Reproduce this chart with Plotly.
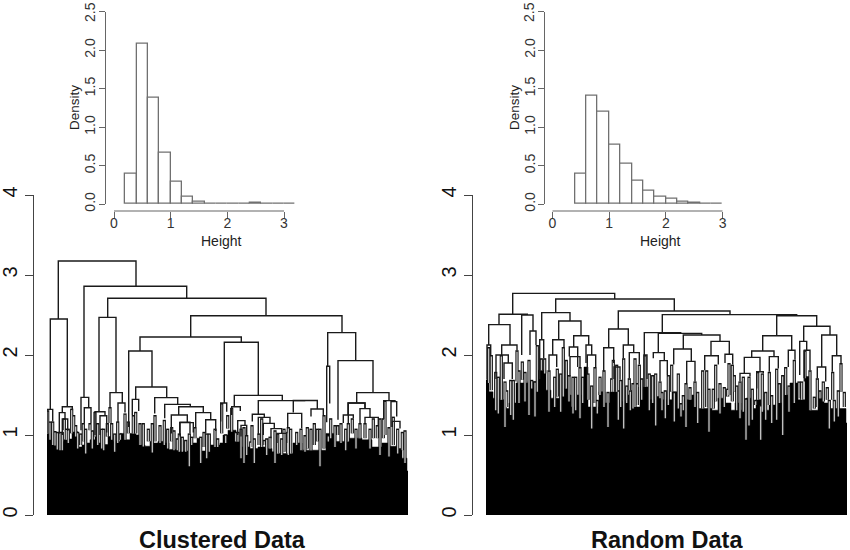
import plotly.graph_objects as go

W, H = 850, 550

# ---------- histogram data ----------
hist_left_x = [0.3,0.5,0.7,0.9,1.1,1.3,1.5,1.7,1.9,2.1,2.3,2.5,2.7,2.9,3.1]
hist_left_y = [0.40,2.09,1.385,0.67,0.29,0.10,0.03,0.004,0.004,0.004,0.004,0.012,0.004,0.004,0.004]
hist_right_x = [0.5,0.7,0.9,1.1,1.3,1.5,1.7,1.9,2.1,2.3,2.5,2.7,2.9]
hist_right_y = [0.40,1.41,1.20,0.77,0.525,0.305,0.17,0.10,0.075,0.025,0.012,0.004,0.004]

# ---------- dendrogram data: (left leaf, right leaf, height, left child height, right child height) ----------
left_links = [
 (58.3,136,3.175,2.45,2.86),(50.3,67.3,2.45,1.32,1.355),(84,186.7,2.86,1.47,2.71),(107.7,266,2.71,2.47,2.49),
 (99,116,2.47,1.29,1.53),(190.7,342,2.49,2.225,2.28),(140,241.3,2.225,2.05,2.16),(128.7,152,2.05,1.10,1.60),
 (224.3,258.3,2.16,1.40,1.495),(327.7,355.7,2.28,1.86,1.93),(326.7,329.7,1.86,1.16,1.395),(338,373,1.93,1.19,1.53),
 (135.7,166.7,1.60,1.445,1.467),(132.3,138.7,1.445,1.25,1.30),(154.7,177.7,1.467,1.27,1.383),(164.7,190.3,1.383,1.21,1.354),
 (178.7,203.3,1.354,1.25,1.28),(171.3,187.3,1.25,1.02,1.155),(179.7,193.3,1.155,1.0,1.03),(195.7,210.7,1.28,1.10,1.19),
 (205.7,215.7,1.19,1.02,1.05),(47,52.7,1.32,1.02,1.17),(62.3,72.3,1.354,1.28,1.31),(59.3,65,1.28,1.02,1.2),(62.3,67.7,1.2,1.0,1.05),
 (81,88.7,1.47,1.06,1.34),(84.3,91,1.34,1.15,1.15),(95,105,1.29,1.0,1.24),(100,106.7,1.24,1.0,1.03),(110,122.3,1.53,1.35,1.40),
 (118,125,1.40,1.16,1.28),(220.7,226.7,1.40,1.17,1.29),(231.7,240.3,1.354,1.25,1.30),(234.3,282.3,1.495,1.354,1.43),
 (258.3,305.3,1.43,1.25,1.43),(293.3,317.3,1.432,1.28,1.325),(252.3,264.3,1.26,1.17,1.22),(287.7,301.7,1.27,1.10,1.08),
 (311,323.3,1.325,1.23,1.25),(356.7,389,1.53,1.40,1.43),(348,365,1.40,1.25,1.33),(383.7,395,1.43,1.2,1.417),(391,396.7,1.417,1.1,1.23),
 (258.3,270,1.22,1.0,1.15),(263.3,274.3,1.145,1.0,1.08),(271,281.7,1.08,0.96,1.02),(277,286.7,1.02,0.9,0.9),(180,190,1.16,0.98,1.02),
 (237.7,245,1.18,1.0,1.12),(241,246.7,1.12,0.98,1.0),(343.3,353.3,1.25,1.15,1.21),(360,370,1.33,1.15,1.22),(365,378.3,1.22,1.15,1.125),
 (392.3,400,1.17,1.1,1.08),(348.3,365,1.40,1.15,1.33),
]
right_links = [
 (512.7,614.7,2.77,2.51,2.70),(499,527.3,2.51,2.38,2.50),(488.7,510,2.38,2.125,2.125),(521.7,533,2.50,2.0,2.30),(487,490.7,2.125,1.7,2.0),
 (501.7,517,2.125,2.0,2.06),(496,508.3,2.0,1.7,1.90),(504,512.3,1.90,1.7,1.7),(530,536,2.30,2.0,2.125),(555.7,674.3,2.70,2.53,2.55),
 (541.7,570,2.53,2.19,2.425),(539.7,543.7,2.19,1.7,1.96),(558.7,581,2.425,2.19,2.24),(552.7,564,2.19,2.0,2.10),(573.7,588.7,2.24,2.10,2.125),
 (569.3,577.7,2.10,1.98,1.85),(586,591.7,2.125,1.9,2.0),(549,556.7,2.0,1.81,1.85),(570,580,1.98,1.73,1.85),(587.3,595.7,2.0,1.77,1.85),
 (618.3,730,2.55,2.325,2.505),(608.7,628.3,2.325,2.09,2.125),(603.7,613.7,2.09,1.8,1.9),(623.3,633.7,2.125,1.96,2.03),(629.3,639.3,2.03,1.71,1.88),
 (662.3,796.7,2.505,2.28,2.49),(776.7,816.7,2.49,2.24,2.36),(644.3,680.7,2.28,2.0,2.27),(658.3,701.7,2.27,2.03,2.25),(683.3,720,2.25,2.075,2.17),
 (653.3,664.3,2.03,1.96,1.93),(660,667.3,1.93,1.67,1.75),(673.7,691.3,2.075,1.88,1.92),(686.7,695,1.92,1.65,1.67),(711,729.3,2.17,1.99,2.01),
 (704.7,718.3,1.99,1.81,1.88),(725,732.7,2.01,1.90,1.88),(762.7,791.7,2.24,2.05,2.06),(803.7,830,2.36,2.17,2.25),(751.7,774,2.05,1.97,1.98),
 (788.3,795,2.06,1.85,1.94),(744.3,760,1.97,1.77,1.79),(769.3,778.3,1.98,1.79,1.83),(799.7,806.7,2.17,1.75,2.06),(804.3,810,2.06,1.67,1.81),
 (821.7,836.7,2.25,1.85,1.99),(817.3,825.7,1.85,1.71,1.67),(832.3,841,1.99,1.79,1.90),(740,750,1.77,1.67,1.73),(756.7,763.3,1.79,1.58,1.77),
 (644,647,2.0,1.6,1.7),(614,620,1.85,1.7,1.69),
]

# ---------- narrow leaf clusters: (leaf, top height, bottom height) ----------
left_spikes = [
 (47.7,1.31,1.02),(50,1.17,.94),(52.7,1.17,.875),(55,1.05,.87),(57.3,1.04,.82),(60,1.04,.81),(62.3,1.04,.81),(64.3,1.21,1.06),(66.3,1.08,.94),
 (68.3,1.08,.9),(71.7,1.33,1.02),(73.7,1.25,1.04),(75.7,1.125,.98),(77.7,1.04,.83),(80.7,1.02,.875),(83.3,1.15,.92),(85.7,1.08,.77),(90,1.15,1.06),
 (92.3,1.06,.83),(95,1.29,.98),(97.7,1.15,.875),(101.7,1.08,.83),(103.7,1.08,.81),(107.3,1.15,.98),(110,1.35,1.15),(111.7,1.15,.94),(114.7,1.02,.79),
 (117.7,1.17,.9),(120.3,1.02,.94),(125,1.27,.94),(128.3,1.17,1.02),(133.3,1.25,1.02),(135.7,1.29,1.02),(140,1.15,.875),(143.3,1.15,.855),
 (148.3,1.08,.92),(152.3,1.15,.78),(155,1.25,.92),(160,1.125,.9),(164.3,1.19,.875),(167.7,1.08,.83),
 (171.7,1.1,.92),(174,1.06,.81),(177.3,.96,.81),(179.3,1.02,.79),(182.3,.98,.79),(185.7,.94,.79),(189.3,1.02,.61),(191.7,.98,.875),(195,1.1,.96),
 (200.7,.98,.65),(204,1.04,.85),(206.7,1.02,.71),(209.3,1.02,.79),(215,1.08,.85),(217.7,.96,.85),(221.7,1.4,1.02),(225.7,1.01,.9),(227.7,1.25,1.08),
 (231.7,1.34,1.04),(235.7,1.04,.92),(238,1.04,.92),(241,1.08,.71),(244,1.1,.65),(246.7,1.0,.75),(250.7,.92,.85),(252,1.125,.85),(254.3,.96,.65),
 (259,1.02,.875),(261.7,1.21,.85),(264.3,.94,.875),(266.7,.96,.75),(270,.98,.83),(275,1.06,.65),(277.7,1.02,.77),(281.7,.96,.75),(284,1.08,.79),
 (287.7,1.04,.77),(288.3,1.1,.75),(290.7,1.08,.77),(296.7,1.04,.875),(301,1.08,.81),(305,1.0,.79),(307.3,1.1,.83),(311,1.08,.81),(314.3,1.15,.875),
 (317.3,1.08,.92),(320,1.08,.61),(324,1.25,.83),(328.3,1.0,.92),(330.7,1.21,.96),(335,1.125,.85),(337.7,1.125,1.0),(341,1.15,.9),(345.7,1.08,.81),
 (348.3,1.15,.92),(352.3,1.21,1.02),(356,1.08,.83),(360,1.15,.96),(365,1.15,.96),(370,1.08,.83),(373.3,1.21,.96),(377.3,1.125,.96),(380,1.21,.75),
 (383.3,1.21,.96),(385,1.43,1.0),(389,1.1,.73),(393.3,1.23,.875),(397.7,1.08,.77),(402.3,1.04,.81),(405,1.06,.65),
]
right_spikes = [
 (488.7,2.1,1.65),(491.3,2.0,1.56),(495.7,1.79,1.31),(498.3,1.73,1.27),(501.3,2.0,1.44),(505,1.67,1.1),(506.7,1.56,1.35),(510.7,1.69,1.25),(513.3,1.69,1.19),
 (517,2.06,1.67),(519,1.81,1.4),(522.3,1.92,1.69),(525,1.79,1.42),(529,1.94,1.25),(531.7,1.69,1.58),(535,1.67,1.23),(537.3,2.125,1.54),(541.3,1.96,1.81),
 (544.7,1.96,1.77),(549,1.81,1.29),(554.7,1.73,1.35),(557.3,1.83,1.48),(560.7,1.77,1.29),(563.3,2.1,1.48),(566.3,1.94,1.58),(569,1.75,1.42),(573,1.73,1.27),
 (575.7,1.73,1.31),(580,1.85,1.21),(582.7,1.73,1.4),(588,1.77,1.44),(591.7,1.62,1.08),(595,1.85,1.4),(597.3,1.44,1.27),(600,1.73,1.5),(604,1.81,1.35),
 (608,1.54,1.1),(611.7,1.71,1.54),(613.3,1.94,1.54),(616.7,1.88,1.54),(618.3,1.56,1.19),(620.7,1.69,1.35),(623.7,1.96,1.08),(626.7,1.62,1.4),(629.3,1.71,1.56),
 (630.3,1.56,1.31),(633,1.65,1.33),(635,1.96,1.35),(637.3,1.65,1.375),(639.3,1.88,1.6),(641.7,1.71,1.44),(645,2.0,1.6),(649.3,1.77,1.31),(652.7,1.75,1.4),
 (655.7,1.77,1.12),(660,1.67,1.46),(662,1.54,1.31),(665.3,1.56,1.21),(668.3,1.75,1.375),(671.7,1.88,1.54),(674.3,1.54,1.17),(678.3,1.77,1.33),(681,1.4,1.23),
 (683.3,1.5,1.31),(686,1.65,1.1),(690,1.6,1.44),(695,1.67,1.35),(697.7,1.54,1.15),(702.7,1.81,1.33),(706.7,1.81,1.35),(709,1.58,1.04),(713.3,1.58,1.33),
 (715.7,1.88,1.42),(720,1.65,1.27),(724.3,1.6,1.35),(727.7,1.58,1.48),(729,1.9,1.5),(732.3,1.88,1.42),(734.3,1.75,1.54),(736.7,1.62,1.31),(740,1.67,1.21),
 (743.3,1.73,1.29),(746,1.46,.94),(749,1.73,1.12),(752.3,1.58,1.19),(755.7,1.44,1.375),(757.7,1.79,1.44),(760.7,1.375,.94),(762.3,1.77,1.29),(765.7,1.54,1.19),
 (769.3,1.79,1.375),(771.7,1.5,1.15),(776.7,1.83,1.19),(779.3,1.65,1.4),(782.7,1.75,1.0),(785.7,1.85,1.5),(789,1.62,1.29),(794.3,1.94,1.4),(799,1.67,1.46),
 (801.7,1.67,1.44),(805,2.06,1.71),(810,1.81,1.31),(814.3,1.48,1.33),(817.3,1.71,1.35),(820,1.56,1.46),(823.3,1.67,1.42),(827.3,1.6,1.44),(829.3,1.44,1.08),
 (832.7,1.79,1.44),(834.3,1.44,1.17),(838.3,1.56,1.23),(841,1.9,1.54),(844.3,1.54,1.35),
]

# ---------- solid lower envelope of the leaves ----------
left_env_x = [47,52,55,57,59,64,69,72,76,78,82,86,90,95,98,103,108,113,120,125,130,136,140,145,150,153,158,163,169,178,186,190,197,200,207,210,220,223,228,236,241,250,258,265,272,276,285,293,302,325,326,335,348,362,372,382,388,398,402,407,408]
left_env_h = [1.02,.94,.875,.83,.92,.94,.95,1.06,1.04,.85,.875,.9,.94,.98,.9,.88,.98,.92,1.02,.94,1.02,1.0,.875,.86,.92,.9,.92,.9,.82,.8,.8,.9,.96,.8,.8,.875,.9,1.0,1.06,.92,.85,.83,.85,.83,.79,.77,.77,.9,.81,.81,1.02,.92,.96,.94,.85,.9,.86,.83,.71,.55,.55]
right_env_x = [486,489,493,499,504,509,516,521,528,537,546,551,562,568,571,577,584,588,594,599,605,610,619,626,632,640,648,655,662,672,678,684,692,698,712,718,725,731,735,741,746,751,756,761,769,777,784,790,798,805,810,818,824,830,840,846,847]
right_env_h = [1.69,1.54,1.46,1.44,1.33,1.4,1.65,1.65,1.67,1.81,1.56,1.46,1.58,1.5,1.35,1.5,1.85,1.35,1.35,1.54,1.4,1.54,1.42,1.5,1.35,1.6,1.44,1.48,1.44,1.54,1.35,1.44,1.5,1.33,1.31,1.46,1.4,1.31,1.4,1.31,1.46,1.33,1.44,1.31,1.375,1.4,1.5,1.65,1.44,1.73,1.31,1.46,1.4,1.33,1.33,1.15,1.15]

y_ticks_big = [0,1,2,3,4]
y_ticks_small = [0,0.5,1,1.5,2,2.5]
y_ticktext_small = ["0.0","0.5","1.0","1.5","2.0",""]
x_ticks_small = [0,1,2,3]
titles = ["Clustered Data", "Random Data"]

FONT = "Liberation Sans, Arial, sans-serif"
AX = "#444444"
fig = go.Figure()


def link_path(links):
    xs, ys = [], []
    for xl, xr, h, hl, hr in links:
        xs += [xl, xl, xr, xr, None]
        ys += [hl, h, h, hr, None]
    return xs, ys


def spike_path(spikes, inset):
    xs, ys = [], []
    for x, top, bot in spikes:
        xs += [x, x, None]
        ys += [bot, top - inset, None]
    return xs, ys


def add_tree(links, spikes, env_x, env_h, xa, ya):
    ref = dict(xaxis=xa, yaxis=ya, hoverinfo="skip", showlegend=False, mode="lines")
    fig.add_trace(go.Scatter(x=env_x, y=env_h, fill="tozeroy", fillcolor="#000000",
                             line=dict(color="#000000", width=0.5, shape="hv"), **ref))
    sx, sy = spike_path(spikes, 0)
    fig.add_trace(go.Scatter(x=sx, y=sy, line=dict(color="#111111", width=3.2), **ref))
    sx, sy = spike_path(spikes, 0.018)
    fig.add_trace(go.Scatter(x=sx, y=sy, line=dict(color="#d4d4d4", width=1.2), **ref))
    lx, ly = link_path(links)
    fig.add_trace(go.Scatter(x=lx, y=ly, line=dict(color="#1a1a1a", width=1.4), **ref))


def add_hist(x, y, xa, ya):
    fig.add_trace(go.Bar(x=x, y=y, width=0.2, marker=dict(color="white", line=dict(color="#707070", width=1.3)),
                         xaxis=xa, yaxis=ya, hoverinfo="skip", showlegend=False))


add_tree(left_links, left_spikes, left_env_x, left_env_h, "x", "y")
add_tree(right_links, right_spikes, right_env_x, right_env_h, "x2", "y2")
add_hist(hist_left_x, hist_left_y, "x3", "y3")
add_hist(hist_right_x, hist_right_y, "x4", "y4")


def dx(a, b):
    return [a / W, b / W]


def dy(top, bottom):
    return [(H - bottom) / H, (H - top) / H]


def big_y(pos):
    return dict(domain=dy(195, 515), range=[0, 4], anchor="free", position=pos / W, tickvals=y_ticks_big,
                ticks="outside", ticklen=8, tickwidth=1.3, tickcolor=AX, showline=True, linecolor=AX, linewidth=1.3,
                showgrid=False, zeroline=False, tickangle=-90, tickfont=dict(family=FONT, size=20, color="#111111"))


def small_y(pos):
    return dict(domain=dy(11.7, 204), range=[0, 2.5], anchor="free", position=pos / W, tickvals=y_ticks_small,
                ticktext=y_ticktext_small, ticks="outside", ticklen=6, tickwidth=1.2, tickcolor="#666666", showline=True,
                linecolor="#666666", linewidth=1.2, showgrid=False, zeroline=False, tickangle=-90, ticklabelstandoff=-2,
                tickfont=dict(family=FONT, size=14, color="#333333"))


def small_x(a, b, xmax):
    return dict(domain=dx(a, b), range=[0, xmax], anchor="free", position=(H - 211) / H, tickvals=x_ticks_small,
                ticks="outside", ticklen=6, tickwidth=1.2, tickcolor="#666666", showline=False, ticklabelstandoff=-7,
                showgrid=False, zeroline=False, tickfont=dict(family=FONT, size=14, color="#333333"))


def note(text, x, y, size, bold=False, angle=0, color="#222222", height=None):
    return dict(text=f"<b>{text}</b>" if bold else text, x=x / W, y=(H - y) / H, xref="paper", yref="paper",
                showarrow=False, textangle=angle, font=dict(family=FONT, size=size, color=color),
                xanchor="center", yanchor="middle", height=height, borderpad=0)


def x_axis_line(xref):
    return dict(type="line", xref=xref, yref="paper", x0=0, x1=3, y0=(H - 211) / H, y1=(H - 211) / H,
                line=dict(color="#666666", width=1.2))


fig.update_layout(
    width=W, height=H, margin=dict(l=0, r=0, t=0, b=0, pad=0, autoexpand=False), paper_bgcolor="white", plot_bgcolor="rgba(0,0,0,0)",
    showlegend=False, barmode="overlay", bargap=0,
    xaxis=dict(domain=dx(47, 408), range=[47, 408], visible=False, anchor="y"),
    xaxis2=dict(domain=dx(486, 847), range=[486, 847], visible=False, anchor="y2"),
    yaxis=big_y(33), yaxis2=big_y(472),
    xaxis3=small_x(114, 114 + 170 * 3.2 / 3, 3.2), xaxis4=small_x(552.3, 722.7, 3),
    yaxis3=small_y(105), yaxis4=small_y(544.3),
    shapes=[x_axis_line("x3"), x_axis_line("x4")],
    annotations=[
        note(titles[0], 223, 540, 23.5, bold=True, color="#111111", height=20),
        note(titles[1], 667, 540, 23.5, bold=True, color="#111111", height=20),
        note("Height", 221.7, 241, 14), note("Height", 660, 241, 14),
        note("Density", 74, 108, 13.5, angle=-90), note("Density", 514, 108, 13.5, angle=-90),
        note("2.5", 90, 12, 14, angle=-90, color="#333333"), note("2.5", 529, 12, 14, angle=-90, color="#333333"),
    ],
)
fig.write_html("out.html", config=dict(displayModeBar=False),
               post_script="document.body.style.margin='0';document.body.style.overflow='hidden';")
